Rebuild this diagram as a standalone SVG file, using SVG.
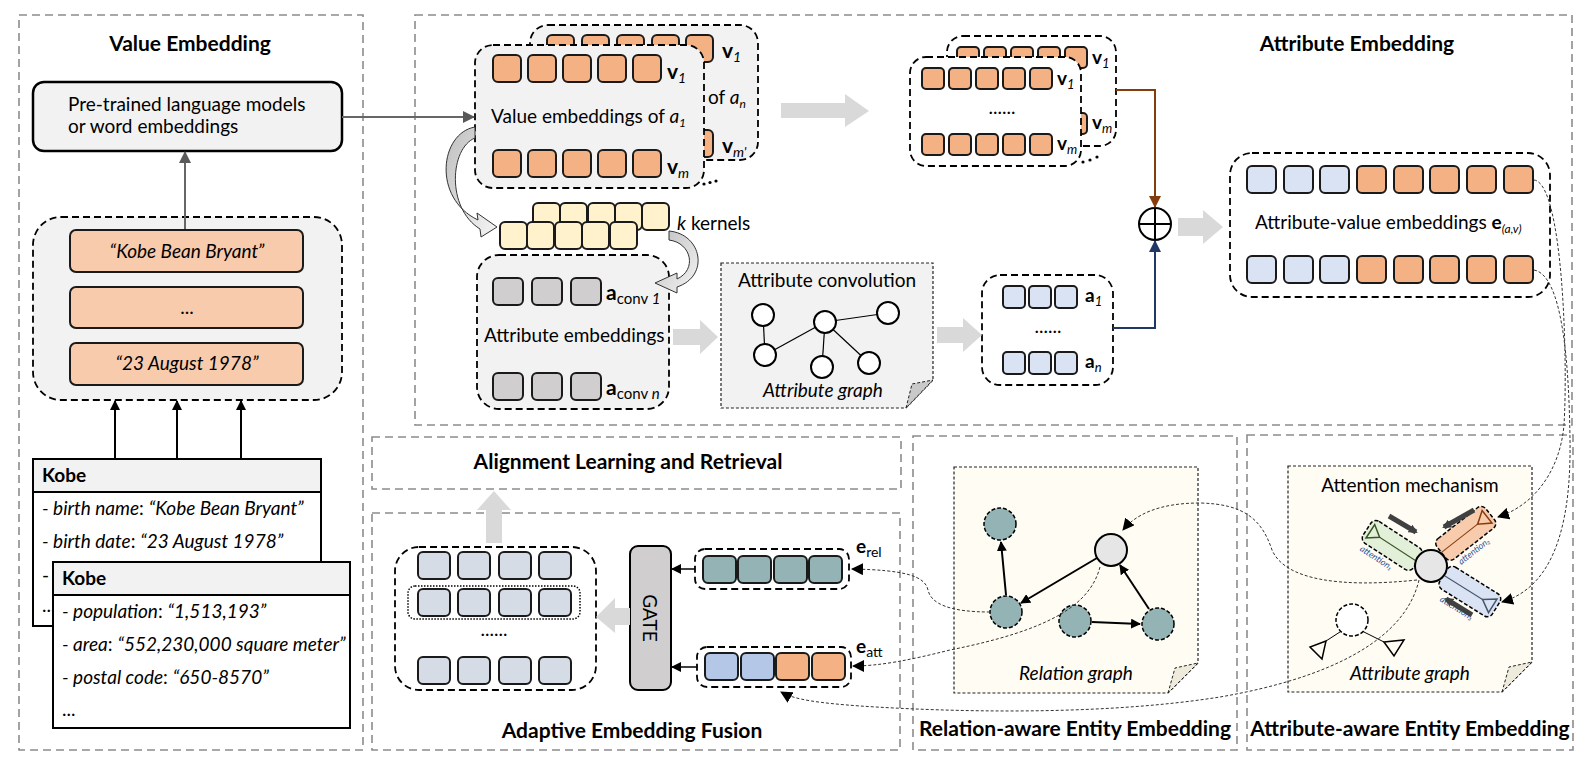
<svg xmlns="http://www.w3.org/2000/svg" width="1590" height="761" viewBox="0 0 1590 761">
<defs>
<style>
.sec{fill:none;stroke:#8c8c8c;stroke-width:1.6;stroke-dasharray:8 5}
.title{font-family:Lato,"Liberation Sans",sans-serif;font-weight:bold;font-size:21px;fill:#000}
.lbl{font-family:Lato,"Liberation Sans",sans-serif;font-size:19px;fill:#000}
.it{font-style:italic}
.b{font-weight:bold}
.card{fill:#f2f2f2;stroke:#000;stroke-width:1.8;stroke-dasharray:7 4}
.cardw{fill:#fff;stroke:#000;stroke-width:1.8;stroke-dasharray:7 4}
.sq{stroke:#1a1a1a;stroke-width:2}
.or{fill:#f4b183}
.lo{fill:#f8cbad}
.lb{fill:#dae3f3}
.mb{fill:#b4c7e7}
.gy{fill:#d0cece}
.fu{fill:#d6dce5}
.ke{fill:#fff2cc}
.te{fill:#93b3b4}
.paper{stroke:#222;stroke-width:1.2;stroke-dasharray:3 2}
.blk{fill:#d9d9d9}
.dc{fill:none;stroke:#333;stroke-width:1;stroke-dasharray:3 2}
.node{fill:#fff;stroke:#000;stroke-width:2}
.att{font-family:Lato,"Liberation Sans",sans-serif;font-size:9px;font-style:italic;fill:#2f5597}
</style>
<marker id="ah" markerWidth="10" markerHeight="10" refX="9" refY="5" orient="auto" markerUnits="userSpaceOnUse"><path d="M0,0 L10,5 L0,10 z" fill="#000"/></marker>
<marker id="ahg" markerWidth="12" markerHeight="12" refX="11" refY="6" orient="auto" markerUnits="userSpaceOnUse"><path d="M0,0 L12,6 L0,12 z" fill="#595959"/></marker>
<marker id="ahbr" markerWidth="12" markerHeight="12" refX="11" refY="6" orient="auto" markerUnits="userSpaceOnUse"><path d="M0,0 L12,6 L0,12 z" fill="#843c0c"/></marker>
<marker id="ahnv" markerWidth="12" markerHeight="12" refX="11" refY="6" orient="auto" markerUnits="userSpaceOnUse"><path d="M0,0 L12,6 L0,12 z" fill="#203864"/></marker>
<marker id="ahd" markerWidth="12" markerHeight="12" refX="11" refY="6" orient="auto" markerUnits="userSpaceOnUse"><path d="M0,0 L12,6 L0,12 z" fill="#000"/></marker>
<marker id="aht" markerWidth="9" markerHeight="9" refX="7" refY="4.5" orient="auto" markerUnits="userSpaceOnUse"><path d="M0,0 L9,4.5 L0,9 z" fill="#404040"/></marker>
<linearGradient id="cg" x1="0" y1="0" x2="1" y2="1"><stop offset="0" stop-color="#bfbfbf"/><stop offset="1" stop-color="#f5f5f5"/></linearGradient>
</defs>
<rect width="1590" height="761" fill="#fff"/>

<g id="sections">
<rect class="sec" x="19" y="15" width="344" height="735"/>
<text class="title" x="190" y="51" text-anchor="middle" font-size="22">Value Embedding</text>
<rect class="sec" x="415" y="15" width="1157" height="410"/>
<text class="title" x="1357" y="51" text-anchor="middle" font-size="22">Attribute Embedding</text>
<rect class="sec" x="372" y="437" width="529" height="52"/>
<text class="title" x="628" y="469" text-anchor="middle">Alignment Learning and Retrieval</text>
<rect class="sec" x="372" y="513" width="528" height="237"/>
<text class="title" x="632" y="738" text-anchor="middle">Adaptive Embedding Fusion</text>
<rect class="sec" x="913" y="436" width="324" height="314"/>
<text class="title" x="1075" y="736" text-anchor="middle">Relation-aware Entity Embedding</text>
<rect class="sec" x="1247" y="435" width="326" height="315"/>
<text class="title" x="1410" y="736" text-anchor="middle">Attribute-aware Entity Embedding</text>
</g>

<g id="pretrained">
<rect x="33" y="82" width="309" height="69" rx="11" fill="#f2f2f2" stroke="#000" stroke-width="2.5"/>
<text class="lbl" x="68" y="111">Pre-trained language models</text>
<text class="lbl" x="68" y="133">or word embeddings</text>
</g>

<g id="value-strings">
<rect class="card" x="33" y="217" width="309" height="183" rx="28"/>
<rect class="lo sq" x="70" y="230" width="233" height="42" rx="6"/>
<rect class="lo sq" x="70" y="287" width="233" height="41" rx="6"/>
<rect class="lo sq" x="70" y="343" width="233" height="42" rx="6"/>
<text class="lbl it" x="187" y="258" text-anchor="middle">“Kobe Bean Bryant”</text>
<text class="lbl" x="187" y="314" text-anchor="middle">...</text>
<text class="lbl it" x="187" y="370" text-anchor="middle">“23 August 1978”</text>
</g>

<g id="kobe-1">
<rect x="33" y="459" width="288" height="167" fill="#fff" stroke="#000" stroke-width="2"/>
<rect x="33" y="459" width="288" height="33" fill="#f2f2f2" stroke="#000" stroke-width="2"/>
<text class="lbl b" x="42" y="482">Kobe</text>
<text class="lbl" x="42" y="515"><tspan class="it">- birth name</tspan>: <tspan class="it">“Kobe Bean Bryant”</tspan></text>
<text class="lbl" x="42" y="548"><tspan class="it">- birth date</tspan>: <tspan class="it">“23 August 1978”</tspan></text>
<text class="lbl" x="42" y="582">-</text>
<text class="lbl" x="42" y="612">...</text>
</g>

<g id="kobe-2">
<rect x="53" y="562" width="297" height="166" fill="#fff" stroke="#000" stroke-width="2"/>
<rect x="53" y="562" width="297" height="33" fill="#f2f2f2" stroke="#000" stroke-width="2"/>
<text class="lbl b" x="62" y="585">Kobe</text>
<text class="lbl" x="62" y="618"><tspan class="it">- population</tspan>: <tspan class="it">“1,513,193”</tspan></text>
<text class="lbl" x="62" y="651"><tspan class="it">- area</tspan>: <tspan class="it">“552,230,000 square meter”</tspan></text>
<text class="lbl" x="62" y="684"><tspan class="it">- postal code</tspan>: <tspan class="it">“650-8570”</tspan></text>
<text class="lbl" x="62" y="716">...</text>
</g>

<g id="value-embeddings-an">
<rect class="card" x="530" y="25" width="228" height="135" rx="18"/>
<rect class="or sq" x="547" y="35" width="27" height="27" rx="5"/>
<rect class="or sq" x="582" y="35" width="27" height="27" rx="5"/>
<rect class="or sq" x="617" y="35" width="27" height="27" rx="5"/>
<rect class="or sq" x="652" y="35" width="27" height="27" rx="5"/>
<rect class="or sq" x="686" y="35" width="27" height="27" rx="5"/>
<rect class="or sq" x="686" y="130" width="27" height="27" rx="5"/>
<text class="lbl" x="722" y="58"><tspan class="b" font-size="21">v</tspan><tspan class="it" font-size="14" dy="4">1</tspan></text>
<text class="lbl" x="708" y="104">of <tspan class="it">a</tspan><tspan class="it" font-size="12" dy="4">n</tspan></text>
<text class="lbl" x="722" y="153"><tspan class="b" font-size="21">v</tspan><tspan class="it" font-size="14" dy="4">m'</tspan></text>
</g>

<g id="value-embeddings-a1">
<rect class="card" x="475" y="45" width="229" height="143" rx="18"/>
<rect class="or sq" x="493" y="55" width="28" height="27" rx="5"/>
<rect class="or sq" x="528" y="55" width="28" height="27" rx="5"/>
<rect class="or sq" x="563" y="55" width="28" height="27" rx="5"/>
<rect class="or sq" x="598" y="55" width="28" height="27" rx="5"/>
<rect class="or sq" x="633" y="55" width="28" height="27" rx="5"/>
<rect class="or sq" x="493" y="150" width="28" height="27" rx="5"/>
<rect class="or sq" x="528" y="150" width="28" height="27" rx="5"/>
<rect class="or sq" x="563" y="150" width="28" height="27" rx="5"/>
<rect class="or sq" x="598" y="150" width="28" height="27" rx="5"/>
<rect class="or sq" x="633" y="150" width="28" height="27" rx="5"/>
<text class="lbl" x="667" y="79"><tspan class="b" font-size="21">v</tspan><tspan class="it" font-size="14" dy="4">1</tspan></text>
<text class="lbl" x="491" y="123">Value embeddings of <tspan class="it">a</tspan><tspan class="it" font-size="12" dy="4">1</tspan></text>
<text class="lbl" x="667" y="174"><tspan class="b" font-size="21">v</tspan><tspan class="it" font-size="14" dy="4">m</tspan></text>
<circle cx="704" cy="184" r="1.6" fill="#000"/><circle cx="710" cy="182.5" r="1.6" fill="#000"/><circle cx="716" cy="181" r="1.6" fill="#000"/>
</g>

<g id="kernels">
<rect class="ke sq" x="533" y="203" width="27" height="27" rx="5"/>
<rect class="ke sq" x="560" y="203" width="27" height="27" rx="5"/>
<rect class="ke sq" x="588" y="203" width="27" height="27" rx="5"/>
<rect class="ke sq" x="615" y="203" width="27" height="27" rx="5"/>
<rect class="ke sq" x="642" y="203" width="27" height="27" rx="5"/>
<rect class="ke sq" x="500" y="222" width="27" height="27" rx="5"/>
<rect class="ke sq" x="527" y="222" width="27" height="27" rx="5"/>
<rect class="ke sq" x="555" y="222" width="27" height="27" rx="5"/>
<rect class="ke sq" x="582" y="222" width="27" height="27" rx="5"/>
<rect class="ke sq" x="610" y="222" width="27" height="27" rx="5"/>
<text class="lbl" x="677" y="230"><tspan class="it">k</tspan> kernels</text>
</g>

<g id="attribute-embeddings">
<rect class="card" x="477" y="255" width="192" height="154" rx="22"/>
<rect class="gy sq" x="493" y="278" width="30" height="27" rx="5"/>
<rect class="gy sq" x="532" y="278" width="30" height="27" rx="5"/>
<rect class="gy sq" x="571" y="278" width="30" height="27" rx="5"/>
<rect class="gy sq" x="493" y="373" width="30" height="27" rx="5"/>
<rect class="gy sq" x="532" y="373" width="30" height="27" rx="5"/>
<rect class="gy sq" x="571" y="373" width="30" height="27" rx="5"/>
<text class="lbl" x="606" y="300"><tspan class="b" font-size="21">a</tspan><tspan font-size="15" dy="4">conv </tspan><tspan class="it" font-size="15">1</tspan></text>
<text class="lbl" x="484" y="342">Attribute embeddings</text>
<text class="lbl" x="606" y="395"><tspan class="b" font-size="21">a</tspan><tspan font-size="15" dy="4">conv </tspan><tspan class="it" font-size="15">n</tspan></text>
</g>

<g id="attribute-convolution">
<path class="paper" d="M721,263 H933 V380 L906,408 H721 Z" fill="#f2f2f2"/>
<path d="M906,408 L912,384 L933,380 Z" fill="#c9c9c9" stroke="#222" stroke-width="1" stroke-dasharray="3 2"/>
<text class="lbl" x="738" y="287">Attribute convolution</text>
<g stroke="#000" stroke-width="1.2">
<line x1="763" y1="315" x2="765" y2="355"/>
<line x1="765" y1="355" x2="825" y2="322"/>
<line x1="825" y1="322" x2="888" y2="313"/>
<line x1="825" y1="322" x2="822" y2="367"/>
<line x1="825" y1="322" x2="869" y2="363"/>
</g>
<circle class="node" cx="763" cy="315" r="11"/>
<circle class="node" cx="765" cy="355" r="11"/>
<circle class="node" cx="825" cy="322" r="11"/>
<circle class="node" cx="888" cy="313" r="11"/>
<circle class="node" cx="822" cy="367" r="11"/>
<circle class="node" cx="869" cy="363" r="11"/>
<text class="lbl it" x="823" y="397" text-anchor="middle">Attribute graph</text>
</g>

<g id="attribute-vectors">
<rect class="cardw" x="982" y="275" width="131" height="110" rx="18"/>
<rect class="lb sq" x="1003" y="286" width="22" height="22" rx="4"/>
<rect class="lb sq" x="1029" y="286" width="22" height="22" rx="4"/>
<rect class="lb sq" x="1055" y="286" width="22" height="22" rx="4"/>
<rect class="lb sq" x="1003" y="352" width="22" height="22" rx="4"/>
<rect class="lb sq" x="1029" y="352" width="22" height="22" rx="4"/>
<rect class="lb sq" x="1055" y="352" width="22" height="22" rx="4"/>
<text class="lbl" x="1085" y="302"><tspan class="b" font-size="19">a</tspan><tspan class="it" font-size="13" dy="4">1</tspan></text>
<text class="lbl" x="1048" y="333" text-anchor="middle" font-size="15">......</text>
<text class="lbl" x="1085" y="368"><tspan class="b" font-size="19">a</tspan><tspan class="it" font-size="13" dy="4">n</tspan></text>
</g>

<g id="value-vectors-an">
<rect class="cardw" x="947" y="36" width="169" height="110" rx="16"/>
<rect class="or sq" x="957" y="47" width="22" height="21" rx="4"/>
<rect class="or sq" x="984" y="47" width="22" height="21" rx="4"/>
<rect class="or sq" x="1011" y="47" width="22" height="21" rx="4"/>
<rect class="or sq" x="1038" y="47" width="22" height="21" rx="4"/>
<rect class="or sq" x="1065" y="47" width="22" height="21" rx="4"/>
<rect class="or sq" x="1065" y="113" width="22" height="21" rx="4"/>
<text class="lbl" x="1092" y="64"><tspan class="b" font-size="19">v</tspan><tspan class="it" font-size="13" dy="4">1</tspan></text>
<text class="lbl" x="1092" y="129"><tspan class="b" font-size="19">v</tspan><tspan class="it" font-size="13" dy="4">m</tspan></text>
</g>

<g id="value-vectors-a1">
<rect class="cardw" x="910" y="57" width="171" height="109" rx="16"/>
<rect class="or sq" x="922" y="68" width="22" height="21" rx="4"/>
<rect class="or sq" x="949" y="68" width="22" height="21" rx="4"/>
<rect class="or sq" x="976" y="68" width="22" height="21" rx="4"/>
<rect class="or sq" x="1003" y="68" width="22" height="21" rx="4"/>
<rect class="or sq" x="1030" y="68" width="22" height="21" rx="4"/>
<rect class="or sq" x="922" y="134" width="22" height="21" rx="4"/>
<rect class="or sq" x="949" y="134" width="22" height="21" rx="4"/>
<rect class="or sq" x="976" y="134" width="22" height="21" rx="4"/>
<rect class="or sq" x="1003" y="134" width="22" height="21" rx="4"/>
<rect class="or sq" x="1030" y="134" width="22" height="21" rx="4"/>
<text class="lbl" x="1057" y="85"><tspan class="b" font-size="19">v</tspan><tspan class="it" font-size="13" dy="4">1</tspan></text>
<text class="lbl" x="1002" y="114" text-anchor="middle" font-size="15">......</text>
<text class="lbl" x="1057" y="150"><tspan class="b" font-size="19">v</tspan><tspan class="it" font-size="13" dy="4">m</tspan></text>
<circle cx="1083" cy="162" r="1.6" fill="#000"/><circle cx="1090" cy="160" r="1.6" fill="#000"/><circle cx="1097" cy="157" r="1.6" fill="#000"/>
</g>

<g id="concat">
<circle cx="1155" cy="224" r="16" fill="#fff" stroke="#000" stroke-width="2"/>
<line x1="1139" y1="224" x2="1171" y2="224" stroke="#000" stroke-width="2"/>
<line x1="1155" y1="208" x2="1155" y2="240" stroke="#000" stroke-width="2"/>
</g>

<g id="attribute-value-embeddings">
<rect class="cardw" x="1230" y="153" width="320" height="144" rx="22"/>
<rect class="lb sq" x="1247" y="166" width="29" height="27" rx="5"/>
<rect class="lb sq" x="1284" y="166" width="29" height="27" rx="5"/>
<rect class="lb sq" x="1320" y="166" width="29" height="27" rx="5"/>
<rect class="or sq" x="1357" y="166" width="29" height="27" rx="5"/>
<rect class="or sq" x="1394" y="166" width="29" height="27" rx="5"/>
<rect class="or sq" x="1430" y="166" width="29" height="27" rx="5"/>
<rect class="or sq" x="1467" y="166" width="29" height="27" rx="5"/>
<rect class="or sq" x="1504" y="166" width="29" height="27" rx="5"/>
<rect class="lb sq" x="1247" y="256" width="29" height="27" rx="5"/>
<rect class="lb sq" x="1284" y="256" width="29" height="27" rx="5"/>
<rect class="lb sq" x="1320" y="256" width="29" height="27" rx="5"/>
<rect class="or sq" x="1357" y="256" width="29" height="27" rx="5"/>
<rect class="or sq" x="1394" y="256" width="29" height="27" rx="5"/>
<rect class="or sq" x="1430" y="256" width="29" height="27" rx="5"/>
<rect class="or sq" x="1467" y="256" width="29" height="27" rx="5"/>
<rect class="or sq" x="1504" y="256" width="29" height="27" rx="5"/>
<text class="lbl" x="1255" y="229">Attribute-value embeddings <tspan class="b" font-size="19">e</tspan><tspan class="it" font-size="12" dy="4">(a,v)</tspan></text>
</g>

<g id="fused-embeddings">
<rect class="cardw" x="395" y="547" width="201" height="143" rx="24"/>
<rect x="408" y="586" width="172" height="33" rx="7" fill="none" stroke="#000" stroke-width="1.5" stroke-dasharray="1.5 1.5"/>
<rect class="fu sq" x="418" y="552" width="32" height="27" rx="5"/>
<rect class="fu sq" x="458" y="552" width="32" height="27" rx="5"/>
<rect class="fu sq" x="499" y="552" width="32" height="27" rx="5"/>
<rect class="fu sq" x="539" y="552" width="32" height="27" rx="5"/>
<rect class="fu sq" x="418" y="589" width="32" height="27" rx="5"/>
<rect class="fu sq" x="458" y="589" width="32" height="27" rx="5"/>
<rect class="fu sq" x="499" y="589" width="32" height="27" rx="5"/>
<rect class="fu sq" x="539" y="589" width="32" height="27" rx="5"/>
<text class="lbl" x="494" y="636" text-anchor="middle" font-size="15">......</text>
<rect class="fu sq" x="418" y="657" width="32" height="27" rx="5"/>
<rect class="fu sq" x="458" y="657" width="32" height="27" rx="5"/>
<rect class="fu sq" x="499" y="657" width="32" height="27" rx="5"/>
<rect class="fu sq" x="539" y="657" width="32" height="27" rx="5"/>
</g>

<g id="gate">
<rect x="630" y="546" width="41" height="144" rx="8" fill="#d0cece" stroke="#000" stroke-width="2"/>
<text class="lbl" x="650" y="618" font-size="20" text-anchor="middle" dominant-baseline="central" transform="rotate(90 650 618)">GATE</text>
</g>

<g id="e-rel">
<rect class="cardw" x="695" y="549" width="154" height="40" rx="10"/>
<rect class="te sq" x="703" y="556" width="33" height="27" rx="5"/>
<rect class="te sq" x="738" y="556" width="33" height="27" rx="5"/>
<rect class="te sq" x="774" y="556" width="33" height="27" rx="5"/>
<rect class="te sq" x="809" y="556" width="33" height="27" rx="5"/>
<text class="lbl" x="856" y="553"><tspan class="b" font-size="19">e</tspan><tspan font-size="14" dy="4">rel</tspan></text>
</g>

<g id="e-att">
<rect class="cardw" x="697" y="647" width="154" height="40" rx="10"/>
<rect class="mb sq" x="705" y="653" width="33" height="27" rx="5"/>
<rect class="mb sq" x="741" y="653" width="33" height="27" rx="5"/>
<rect class="or sq" x="776" y="653" width="33" height="27" rx="5"/>
<rect class="or sq" x="812" y="653" width="33" height="27" rx="5"/>
<text class="lbl" x="856" y="653"><tspan class="b" font-size="19">e</tspan><tspan font-size="14" dy="4">att</tspan></text>
</g>

<g id="relation-graph">
<path class="paper" d="M954,467 H1198 V663 L1168,693 H954 Z" fill="#fffcf4"/>
<path d="M1168,693 L1175,668 L1198,663 Z" fill="#eeeadc" stroke="#222" stroke-width="1" stroke-dasharray="3 2"/>
<text class="lbl it" x="1076" y="680" text-anchor="middle">Relation graph</text>
<g stroke="#000" stroke-width="2" marker-end="url(#ah)">
<line x1="1006" y1="595" x2="1001" y2="542"/>
<line x1="1097" y1="558" x2="1021" y2="603"/>
<line x1="1092" y1="622" x2="1140" y2="624"/>
<line x1="1149" y1="609" x2="1120" y2="565"/>
</g>
<circle cx="1000" cy="524" r="16" class="te" stroke="#000" stroke-width="1.5" stroke-dasharray="4 2"/>
<circle cx="1006" cy="612" r="16" class="te" stroke="#000" stroke-width="1.5" stroke-dasharray="4 2"/>
<circle cx="1075" cy="621" r="16" class="te" stroke="#000" stroke-width="1.5" stroke-dasharray="4 2"/>
<circle cx="1158" cy="624" r="16" class="te" stroke="#000" stroke-width="1.5" stroke-dasharray="4 2"/>
<circle cx="1111" cy="550" r="16" fill="#e6e6e6" stroke="#000" stroke-width="2"/>
</g>

<g id="attribute-graph">
<path class="paper" d="M1288,466 H1532 V662 L1502,692 H1288 Z" fill="#fffcf4"/>
<path d="M1502,692 L1509,667 L1532,662 Z" fill="#eeeadc" stroke="#222" stroke-width="1" stroke-dasharray="3 2"/>
<text class="lbl" x="1410" y="492" text-anchor="middle">Attention mechanism</text>
<text class="lbl it" x="1410" y="680" text-anchor="middle">Attribute graph</text>
<g transform="translate(1393,546) rotate(33)">
<rect x="-31" y="-13" width="60" height="26" rx="6" fill="#e2efd9" stroke="#000" stroke-width="1.5" stroke-dasharray="4 2"/>
<line x1="-16" y1="0" x2="40" y2="0" stroke="#375623" stroke-width="1"/>
<path d="M-16,0 L-27,-8 L-27,8 Z" fill="none" stroke="#375623" stroke-width="1.5"/>
<text class="att" x="-26" y="22">attention₁</text>
</g>
<g transform="translate(1465,534) rotate(-38)">
<rect x="-30" y="-13" width="62" height="26" rx="6" fill="#f8cbad" stroke="#000" stroke-width="1.5" stroke-dasharray="4 2"/>
<line x1="-42" y1="0" x2="16" y2="0" stroke="#843c0c" stroke-width="1"/>
<path d="M16,0 L28,-8 L28,8 Z" fill="none" stroke="#843c0c" stroke-width="1.5"/>
<text class="att" x="-22" y="22">attention₂</text>
</g>
<g transform="translate(1469,591) rotate(32)">
<rect x="-30" y="-13" width="62" height="26" rx="6" fill="#dae3f3" stroke="#000" stroke-width="1.5" stroke-dasharray="4 2"/>
<line x1="-42" y1="0" x2="16" y2="0" stroke="#44546a" stroke-width="1"/>
<path d="M16,0 L28,-8 L28,8 Z" fill="none" stroke="#44546a" stroke-width="1.5"/>
<text class="att" x="-20" y="24">attention₃</text>
</g>
<g stroke="#404040" stroke-width="5" marker-end="url(#aht)">
<line x1="1389" y1="516" x2="1416" y2="532"/>
<line x1="1474" y1="510" x2="1444" y2="527"/>
<line x1="1472" y1="615" x2="1446" y2="599"/>
</g>
<circle cx="1431" cy="566" r="16" fill="#e6e6e6" stroke="#000" stroke-width="2"/>
<line x1="1343" y1="630" x2="1326" y2="641" stroke="#000" stroke-width="1"/>
<line x1="1362" y1="631" x2="1384" y2="642" stroke="#000" stroke-width="1"/>
<circle cx="1352" cy="620" r="16" fill="#fff" stroke="#000" stroke-width="1.5" stroke-dasharray="4 2"/>
<path d="M1326,641 L1310,647 L1322,659 Z" fill="none" stroke="#000" stroke-width="1.5"/>
<path d="M1384,642 L1404,640 L1394,656 Z" fill="none" stroke="#000" stroke-width="1.5"/>
</g>

<g id="connectors">
<line x1="115" y1="459" x2="115" y2="401" stroke="#000" stroke-width="2" marker-end="url(#ah)"/>
<line x1="177" y1="459" x2="177" y2="401" stroke="#000" stroke-width="2" marker-end="url(#ah)"/>
<line x1="241" y1="459" x2="241" y2="401" stroke="#000" stroke-width="2" marker-end="url(#ah)"/>
<line x1="185" y1="229" x2="185" y2="152" stroke="#666" stroke-width="2" marker-end="url(#ahg)"/>
<line x1="342" y1="117" x2="474" y2="117" stroke="#666" stroke-width="2" marker-end="url(#ahg)"/>
<path d="M475,127 C440,133 432,198 478,220 L477,213 L497,227 L481,237 L480,229 C446,208 450,148 475,138 Z" fill="url(#cg)" stroke="#333" stroke-width="1"/>
<path d="M669,231 C702,234 710,276 677,287 L677,293 L655,283 L677,273 L677,279 C697,270 692,243 669,240 Z" fill="url(#cg)" stroke="#333" stroke-width="1"/>
<polygon class="blk" points="781,103 845,103 845,94 869,111 845,127 845,118 781,118"/>
<polygon class="blk" points="673,329 700,329 700,320 718,337 700,354 700,345 673,345"/>
<polygon class="blk" points="937,327 963,327 963,318 982,335 963,352 963,343 937,343"/>
<polygon class="blk" points="1178,218 1203,218 1203,210 1223,227 1203,244 1203,236 1178,236"/>
<polygon class="blk" points="630,608 615,608 615,598 596,617 615,633 615,625 630,625"/>
<polygon class="blk" points="486,543 486,510 477,510 494,491 511,510 502,510 502,543"/>
<polyline points="1116,90 1155,90 1155,207" fill="none" stroke="#843c0c" stroke-width="2" marker-end="url(#ahbr)"/>
<polyline points="1113,328 1155,328 1155,241" fill="none" stroke="#203864" stroke-width="2" marker-end="url(#ahnv)"/>
<line x1="695" y1="569" x2="672" y2="569" stroke="#000" stroke-width="1.5" marker-end="url(#ah)"/>
<line x1="697" y1="667" x2="672" y2="667" stroke="#000" stroke-width="1.5" marker-end="url(#ah)"/>
<path class="dc" d="M1534,180 C1563,183 1568,360 1564,425 C1560,470 1535,505 1498,517" marker-end="url(#ahd)"/>
<path class="dc" d="M1534,270 C1562,275 1569,360 1570,440 C1571,510 1560,585 1502,602" marker-end="url(#ahd)"/>
<path class="dc" d="M1417,580 C1340,588 1285,580 1272,550 C1262,520 1245,504 1200,503 C1160,503 1136,514 1123,530" marker-end="url(#ahd)"/>
<path class="dc" d="M1419,580 C1405,640 1330,678 1220,697 C1100,716 950,712 860,706 C820,703 795,700 781,692" marker-end="url(#ahd)"/>
<path class="dc" d="M990,612 C950,612 931,604 928,590 C925,576 905,570 852,569" marker-end="url(#ahd)"/>
<path class="dc" d="M1100,567 C1090,605 1050,630 950,650 C910,660 880,666 853,666" marker-end="url(#ahd)"/>
</g>
</svg>
